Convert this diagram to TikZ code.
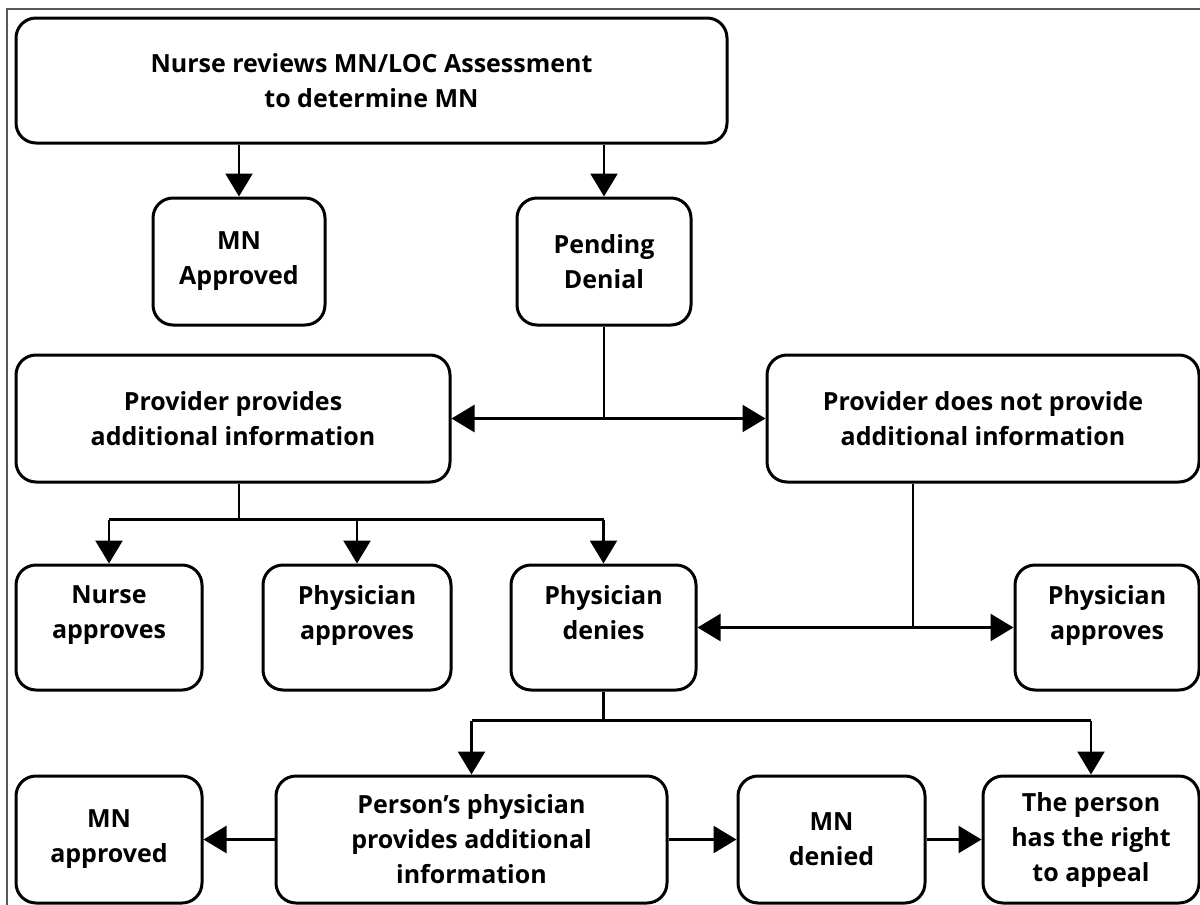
\documentclass[tikz,border=0pt]{standalone}
\usepackage{fontspec}
\setmainfont{Open Sans}
\usetikzlibrary{arrows.meta}

\begin{document}
\begin{tikzpicture}
                        [x=1pt, y=-1pt,
                        box/.style = {draw, line width=3pt, rounded corners=20pt,
                                    align=center, inner sep=0pt,
                                    font=\bfseries\fontsize{25}{35}\selectfont},
                        raised/.style = {text depth=30pt},
                        link/.style = {line width=2.5pt},
                        arr/.style = {link, -{Triangle[length=23pt, width=27pt]}}]
                        \useasboundingbox (0,0) rectangle (1200,905);
                        % Marco
                        \draw[line width=2pt, black!65] (7,905) -- (7,9) -- (1200,9);
                        % Revision de la enfermera
                        \node[box, minimum width=711pt, minimum height=125pt] (review) at (371.5,80.5) {Nurse reviews MN/LOC Assessment\\to determine MN};
                        % Segunda fila
                        \node[box, minimum width=172pt, minimum height=127pt] (mnok) at (239,261.5) {MN\\Approved};
                        \node[box, minimum width=174pt, minimum height=127pt] (pending) at (604,261.5) {Pending\\Denial};
                        % Respuesta del proveedor
                        \node[box, minimum width=434pt, minimum height=127pt] (provides) at (233,418.5) {Provider provides\\additional information};
                        \node[box, minimum width=432pt, minimum height=127pt] (noprov) at (983,418.5) {Provider does not provide\\additional information};
                        % Decisiones
                        \node[box, raised, minimum width=186pt, minimum height=125pt] (nurseok) at (109,627.5) {Nurse\\approves};
                        \node[box, raised, minimum width=188pt, minimum height=125pt] (physok) at (357,627.5) {Physician\\approves};
                        \node[box, raised, minimum width=185pt, minimum height=125pt] (physno) at (603.5,627.5) {Physician\\denies};
                        \node[box, raised, minimum width=184pt, minimum height=125pt] (physok2) at (1107,627.5) {Physician\\approves};
                        % Ultima fila
                        \node[box, minimum width=186pt, minimum height=127pt] (mnok2) at (109,839.5) {MN\\approved};
                        \node[box, minimum width=391pt, minimum height=127pt] (persphys) at (471.5,839.5) {Person's physician\\provides additional\\information};
                        \node[box, minimum width=187pt, minimum height=127pt] (mnno) at (831.5,839.5) {MN\\denied};
                        \node[box, minimum width=216pt, minimum height=127pt] (appeal) at (1091,839.5) {The person\\has the right\\to appeal};
                        % Flechas
                        \draw[arr] (review.south -| mnok.north) -- (mnok.north);
                        \draw[arr] (review.south -| pending.north) -- (pending.north);
                        \coordinate (fork1) at (pending.south |- provides.east);
                        \draw[link] (pending.south) -- (fork1);
                        \draw[arr] (fork1) -- (provides.east);
                        \draw[arr] (fork1) -- (noprov.west);
                        \path (provides.south) ++(6,36) coordinate (fork2);
                        \draw[link] (fork2 |- provides.south) -- (fork2);
                        \draw[link] (fork2 -| nurseok) -- (fork2 -| physno);
                        \draw[arr] (fork2 -| nurseok) -- (nurseok);
                        \draw[arr] (fork2 -| physok) -- (physok);
                        \draw[arr] (fork2 -| physno) -- (physno);
                        \path (noprov.south) ++(-70,0) coordinate (top3);
                        \coordinate (fork3) at (top3 |- physok2.west);
                        \draw[link] (top3) -- (fork3);
                        \draw[arr] (fork3) -- (physno.east);
                        \draw[arr] (fork3) -- (physok2.west);
                        \path (physno.south) ++(0,29) coordinate (fork4);
                        \draw[link] (physno.south) -- (fork4);
                        \draw[link] (fork4 -| persphys) -- (fork4 -| appeal);
                        \draw[arr] (fork4 -| persphys) -- (persphys);
                        \draw[arr] (fork4 -| appeal) -- (appeal);
                        \draw[arr] (persphys) -- (mnok2);
                        \draw[arr] (persphys) -- (mnno);
                        \draw[arr] (mnno) -- (appeal);
                    \end{tikzpicture}
\end{document}
